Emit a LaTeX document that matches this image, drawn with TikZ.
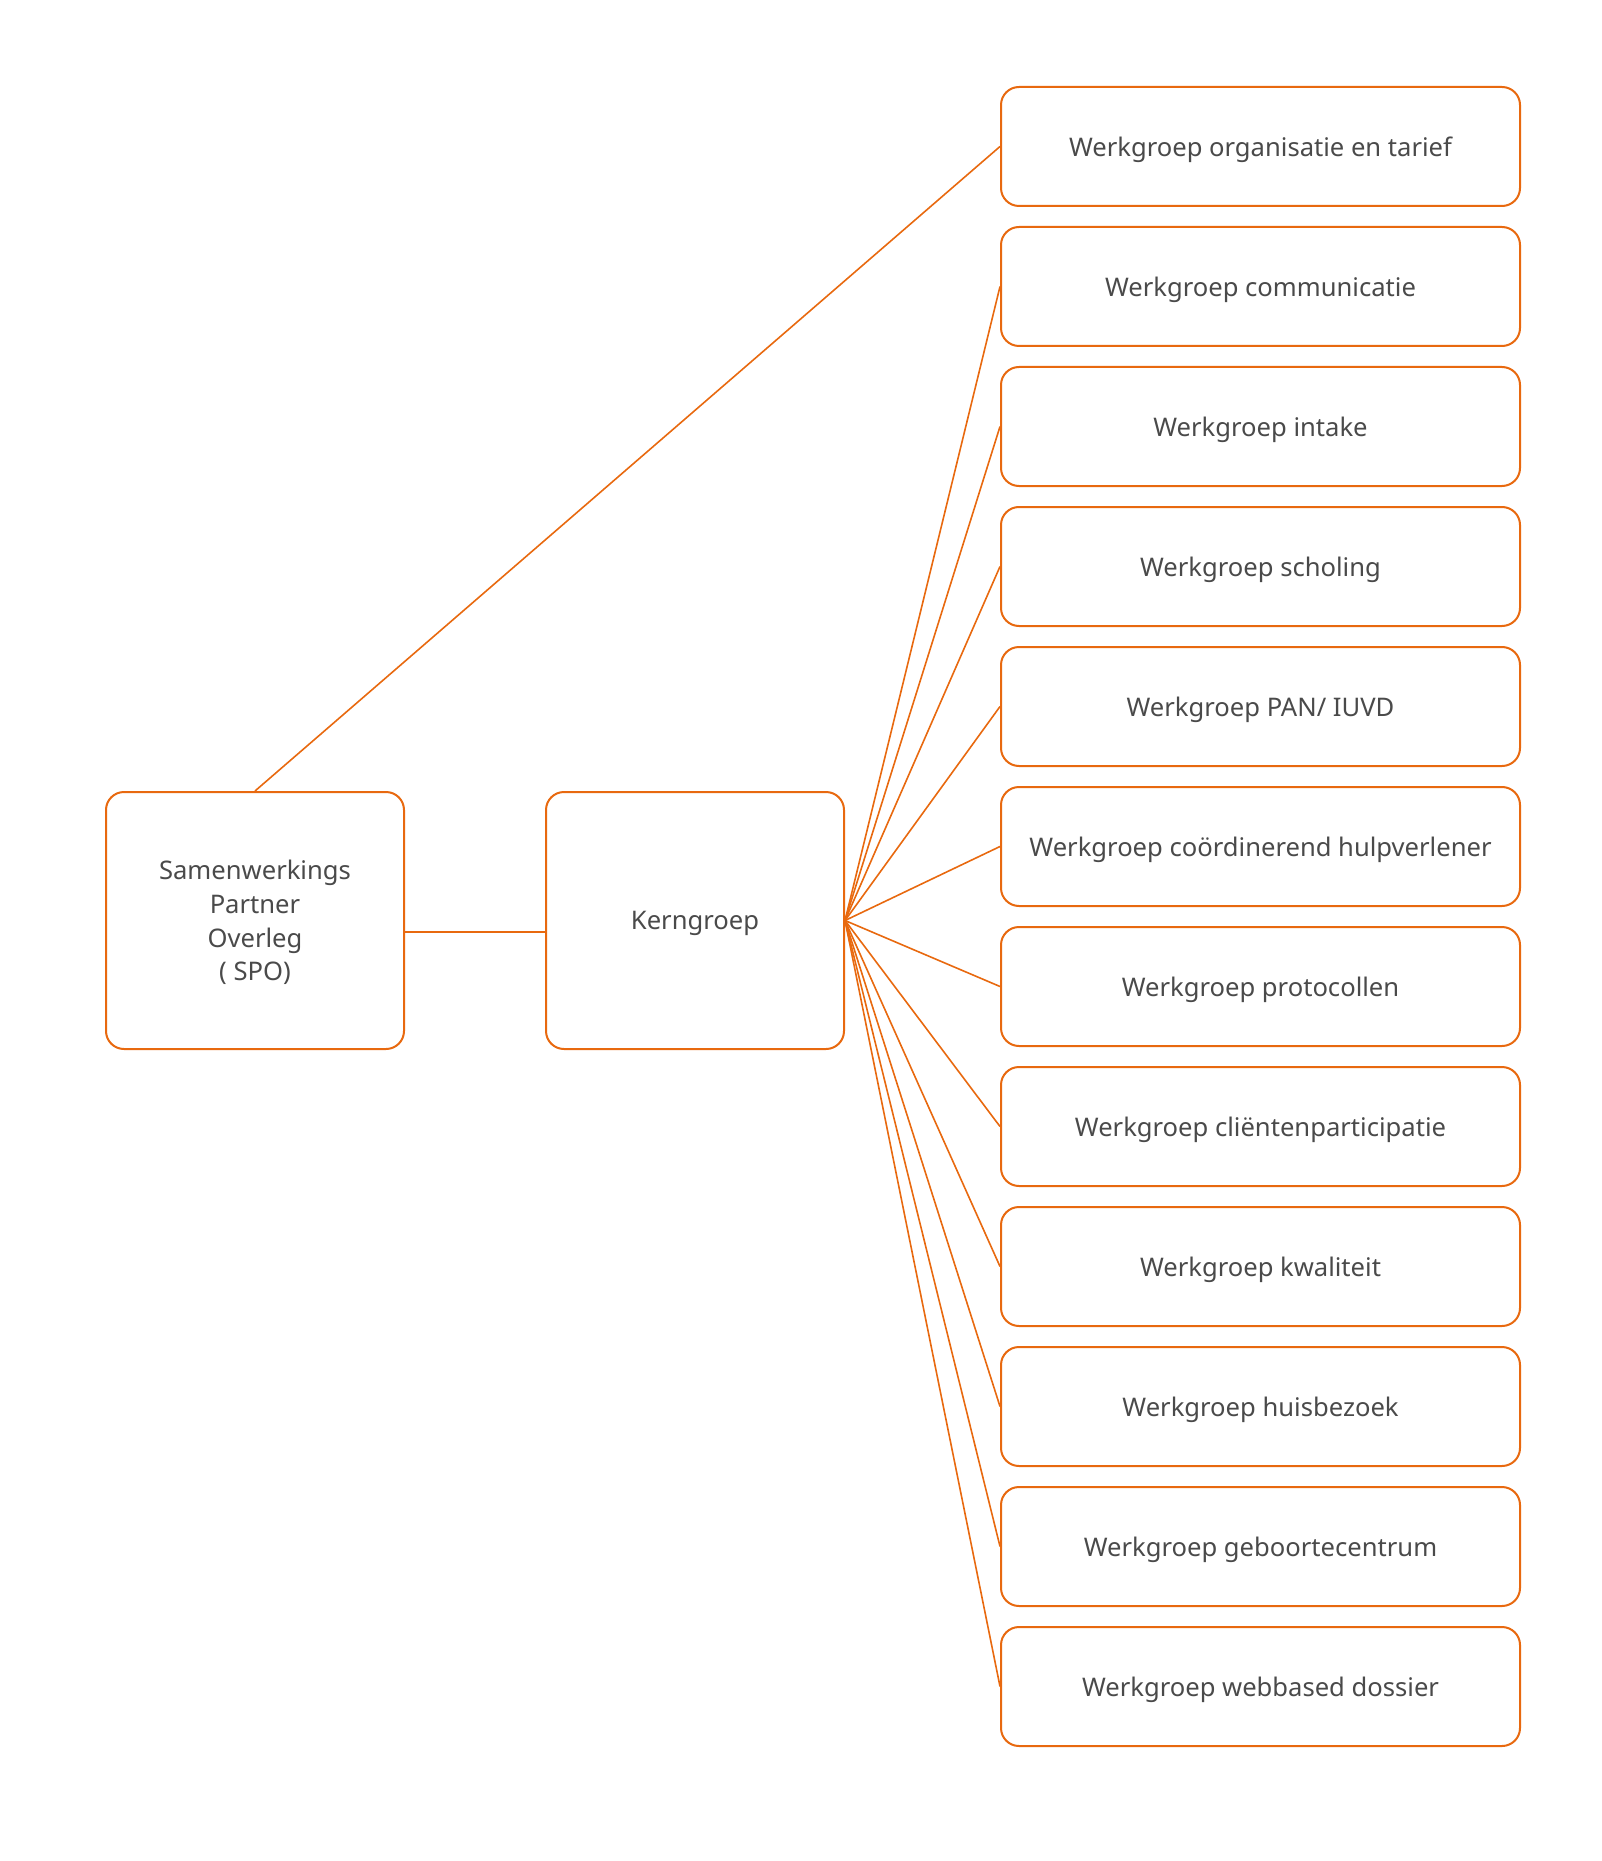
\documentclass[tikz,border=0pt]{standalone}
\usepackage{fontspec}
\setmainfont{Noto Sans}
\definecolor{lineor}{HTML}{E8690F}
\definecolor{txtgray}{HTML}{4A4A4A}
\begin{document}
\begin{tikzpicture}[x=0.5pt,y=-0.5pt,
  box/.style={draw=lineor, line width=1pt, rounded corners=9pt, fill=white,
    text=txtgray, font=\fontsize{12.8pt}{16.8pt}\selectfont, align=center, inner sep=0pt, text depth=0pt},
  wg/.style={box, minimum width=259.5pt, minimum height=59.5pt},
  big/.style={box, minimum width=149pt, minimum height=128.5pt},
  conn/.style={draw=lineor, line width=0.8pt}]
\useasboundingbox (0,0) rectangle (1601,1861);
\node[big] (spo) at (255,920.5) {Samenwerkings\\Partner\\Overleg\\( SPO)};
\node[big] (kern) at (695,920.5) {Kerngroep};
\foreach \i/\t in {0/{Werkgroep organisatie en tarief},
  1/{Werkgroep communicatie},
  2/{Werkgroep intake},
  3/{Werkgroep scholing},
  4/{Werkgroep PAN/ IUVD},
  5/{Werkgroep coördinerend hulpverlener},
  6/{Werkgroep protocollen},
  7/{Werkgroep cliëntenparticipatie},
  8/{Werkgroep kwaliteit},
  9/{Werkgroep huisbezoek},
  10/{Werkgroep geboortecentrum},
  11/{Werkgroep webbased dossier}}
  \node[wg] (w\i) at (1260.5,{146.5+140*\i}) {\t};
\coordinate (lk) at (0,932);
\draw[conn] (spo.east |- lk) -- (kern.west |- lk);
\draw[conn] (spo.north) -- (w0.west);
\foreach \i in {1,...,11}
  \draw[conn] (kern.east) -- (w\i.west);
\end{tikzpicture}
\end{document}
